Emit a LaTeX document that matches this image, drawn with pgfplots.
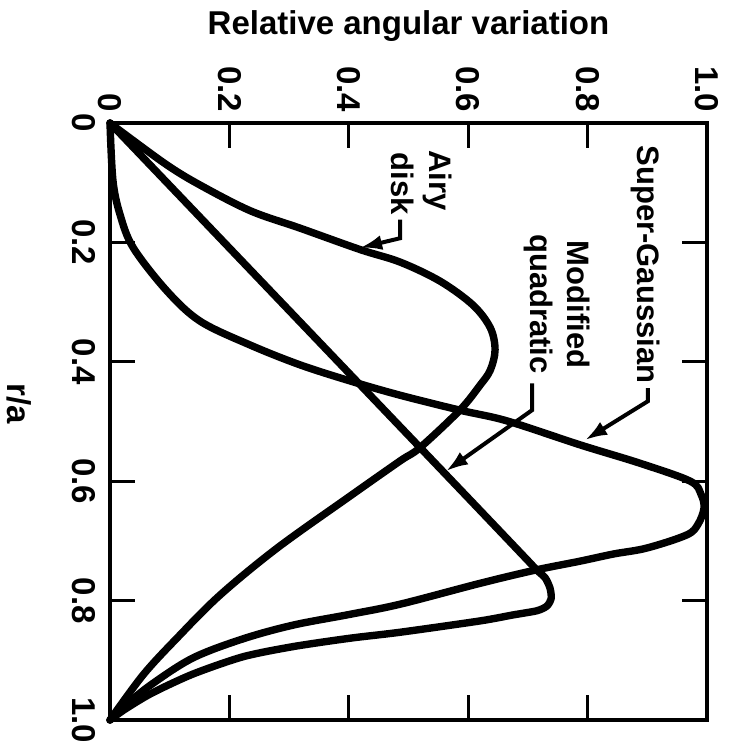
\documentclass[border=0pt]{standalone}
\usepackage{fontspec}
\setmainfont{Liberation Sans}
\usepackage{pgfplots}
\pgfplotsset{compat=1.18}
\usetikzlibrary{arrows.meta}

\newcommand{\lblfont}{\fontsize{16.5}{19}\selectfont\bfseries}
\newcommand{\curvefont}{\fontsize{15.5}{18}\selectfont\bfseries}

\begin{document}
\begin{tikzpicture}
\useasboundingbox (-55pt,-12.5pt) rectangle (312pt,360pt);
\begin{axis}[
  scale only axis, width=298.5pt, height=298.5pt,
  xmin=0, xmax=1, ymin=0, ymax=1, y dir=reverse,
  axis line style={line width=2.4pt},
  xtick={0,0.2,0.4,0.6,0.8,1}, ytick={0,0.2,0.4,0.6,0.8,1},
  xticklabels={0,0.2,0.4,0.6,0.8,1.0},
  yticklabels={0,0.2,0.4,0.6,0.8,1.0},
  xticklabel pos=upper, yticklabel pos=left,
  tick align=inside, major tick length=12.5pt,
  every tick/.style={black, line width=1.5pt},
  xticklabel style={rotate=-90, anchor=east, font=\lblfont},
  yticklabel style={rotate=-90, anchor=north, font=\lblfont},
  xticklabel shift=2pt, yticklabel shift=3.5pt,
  xlabel={Relative angular variation}, ylabel={r/a},
  xlabel style={at={(axis description cs:0.5,1.149)}, anchor=base, font=\lblfont},
  ylabel style={at={(axis description cs:-0.153,0.53)}, anchor=center, rotate=180, font=\lblfont},
  clip=false,
  every axis plot/.append style={black, line width=3.7pt, line join=round, line cap=round},
]
% Airy disk
\addplot[smooth, tension=0.55] coordinates {
 (0,0) (0.017,0.013) (0.095,0.070) (0.151,0.104) (0.235,0.147) (0.318,0.176)
 (0.419,0.212) (0.486,0.233) (0.553,0.265) (0.608,0.305) (0.637,0.343)
 (0.645,0.380) (0.637,0.414) (0.620,0.439) (0.586,0.481) (0.519,0.544)
 (0.486,0.566) (0.402,0.625) (0.280,0.712) (0.184,0.791) (0.112,0.863)
 (0.055,0.925) (0,1)
};
% Modified quadratic
\addplot[smooth, tension=0.45] coordinates {
 (0,0) (0.15,0.157) (0.3,0.314) (0.45,0.471) (0.6,0.628) (0.700,0.733)
 (0.715,0.749) (0.729,0.762) (0.737,0.779) (0.739,0.796) (0.732,0.809)
 (0.715,0.817) (0.675,0.824) (0.620,0.834) (0.486,0.853) (0.402,0.863)
 (0.307,0.877) (0.223,0.894) (0.139,0.923) (0.070,0.955) (0.025,0.982) (0,1)
};
% Super-Gaussian
\addplot[smooth, tension=0.55] coordinates {
 (0,0) (0.005,0.097) (0.017,0.154) (0.039,0.209) (0.095,0.281) (0.151,0.332)
 (0.235,0.372) (0.318,0.405) (0.402,0.432) (0.486,0.456) (0.586,0.481)
 (0.665,0.499) (0.787,0.539) (0.888,0.570) (0.972,0.600) (0.990,0.622)
 (0.995,0.645) (0.985,0.672) (0.966,0.690) (0.899,0.712) (0.843,0.722)
 (0.787,0.734) (0.712,0.749) (0.620,0.771) (0.486,0.806) (0.402,0.823)
 (0.307,0.841) (0.223,0.864) (0.139,0.896) (0.070,0.940) (0.025,0.976) (0,1)
};

% curve labels with leaders
\node[rotate=-90, anchor=base, font=\curvefont, inner sep=0pt] at (axis cs:0.884,0.237) {Super-Gaussian};
\node[rotate=-90, anchor=base, font=\curvefont, inner sep=0pt] at (axis cs:0.767,0.304) {Modified};
\node[rotate=-90, anchor=base, font=\curvefont, inner sep=0pt] at (axis cs:0.704,0.303) {quadratic};
\node[rotate=-90, anchor=base, font=\curvefont, inner sep=0pt] at (axis cs:0.536,0.096) {Airy};
\node[rotate=-90, anchor=base, font=\curvefont, inner sep=0pt] at (axis cs:0.472,0.102) {disk};

\draw[line width=2pt, line join=miter, -{Latex[length=11pt,width=7.5pt]}]
  (axis cs:0.901,0.444) -- (axis cs:0.901,0.466) -- (axis cs:0.796,0.531);
\draw[line width=2pt, line join=miter, -{Latex[length=11pt,width=7.5pt]}]
  (axis cs:0.707,0.436) -- (axis cs:0.707,0.481) -- (axis cs:0.563,0.583);
\draw[line width=2pt, line join=miter, -{Latex[length=11pt,width=7.5pt]}]
  (axis cs:0.486,0.162) -- (axis cs:0.486,0.193) -- (axis cs:0.419,0.209);
\end{axis}
\end{tikzpicture}
\end{document}
